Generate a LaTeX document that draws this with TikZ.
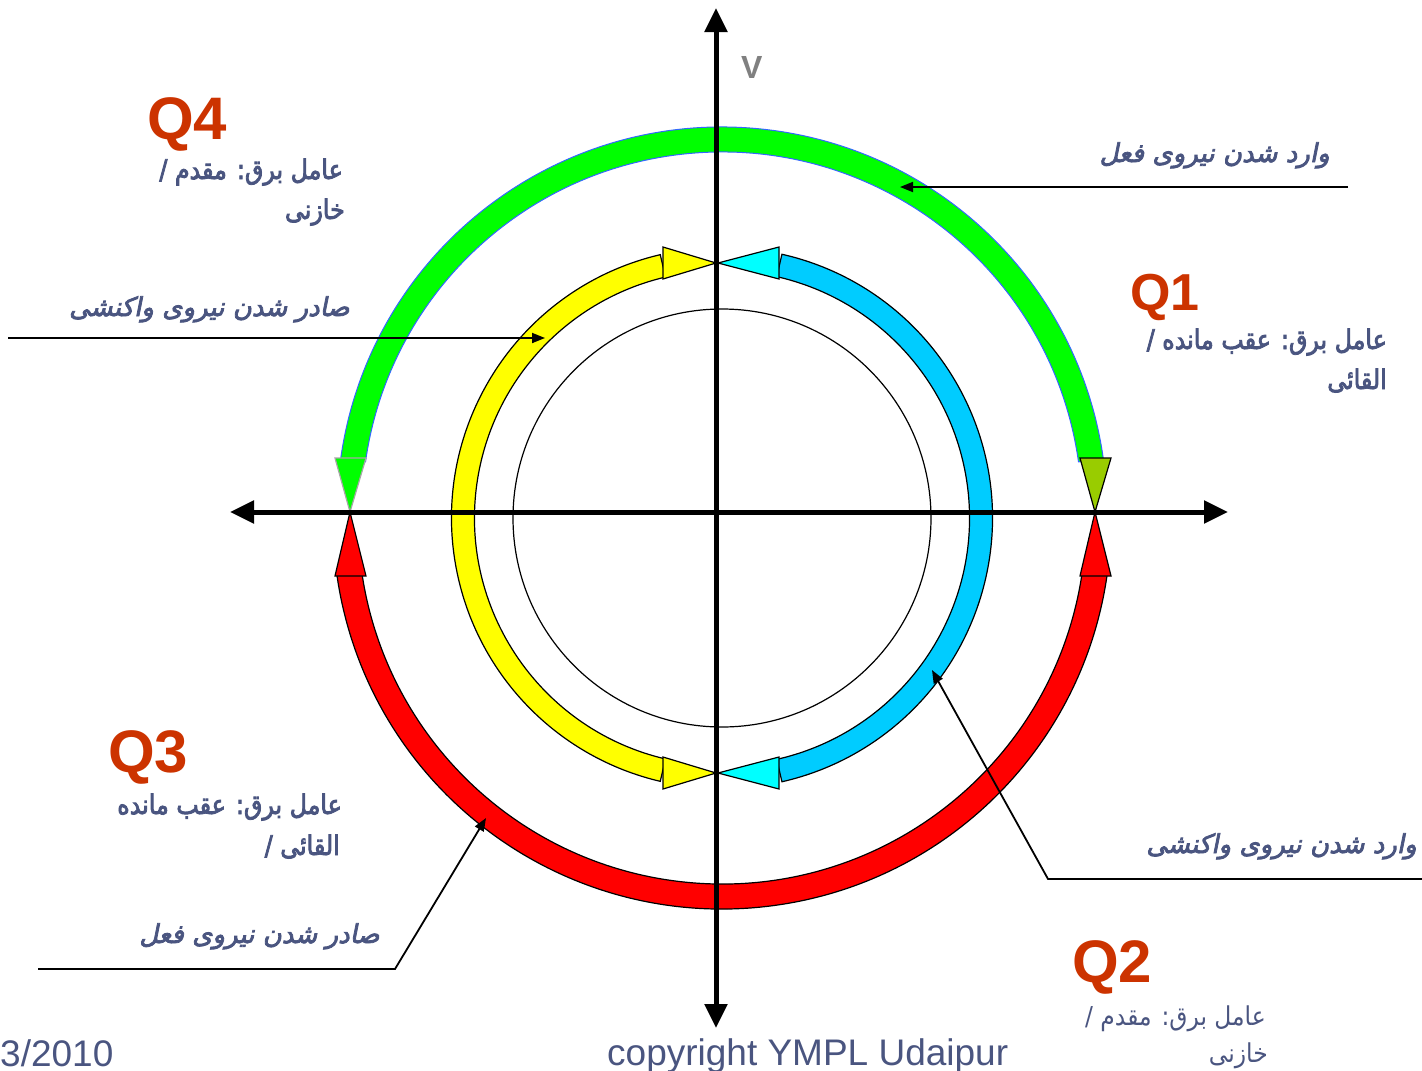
\documentclass[tikz,border=0pt]{standalone}
\usepackage{fontspec}
\setmainfont{Liberation Sans}
\newfontfamily\arb[Script=Arabic,FakeStretch=0.9]{DejaVu Sans}
\newfontfamily\arbb[Script=Arabic,FakeBold=3,FakeStretch=0.88]{DejaVu Sans}
\newfontfamily\arbbi[Script=Arabic,FakeBold=3,FakeSlant=0.2]{DejaVu Sans}
\usetikzlibrary{arrows.meta}
\TeXXeTstate=1
\definecolor{qred}{RGB}{204,51,0}
\definecolor{ptext}{RGB}{74,85,128}
\definecolor{bandblue}{RGB}{0,204,255}
\definecolor{headcyan}{RGB}{0,255,255}
\definecolor{bandyellow}{RGB}{255,255,0}
\definecolor{bandgreen}{RGB}{0,255,0}
\definecolor{bandred}{RGB}{255,0,0}
\definecolor{olivegreen}{RGB}{153,204,0}
\definecolor{gborder}{RGB}{51,102,255}
\definecolor{vgray}{RGB}{128,128,128}
\begin{document}
\begin{tikzpicture}[x=1pt,y=-1pt,
  axisline/.style={line width=5pt,{Triangle[length=24pt,width=22pt]}-{Triangle[length=24pt,width=22pt]}},
  callout/.style={line width=1.8pt,-{Triangle[length=13pt,width=10pt]}},
  bandshape/.style={draw=black,line width=1.2pt},
  headshape/.style={draw=black,line width=1.2pt,line join=miter},
  qlabel/.style={font=\fontsize{60}{60}\selectfont\bfseries,text=qred,inner sep=0pt,anchor=base west},
  plabel/.style={font=\arbb\fontsize{27}{27}\selectfont,text=ptext,inner sep=0pt,anchor=base east},
  plabelreg/.style={font=\arb\fontsize{26}{26}\selectfont,text=ptext,inner sep=0pt,anchor=base east},
  calltext/.style={font=\arbbi\fontsize{26}{26}\selectfont,text=ptext,inner sep=0pt,anchor=base east},
  foot/.style={font=\fontsize{37}{37}\selectfont,text=ptext,inner sep=0pt,anchor=base west}]
\useasboundingbox (0,0) rectangle (1422,1071);

% green band (top)
\path[fill=bandgreen,draw=gborder,line width=1pt] (722,512) ++(188:385) arc[start angle=188,end angle=352,radius=385] -- ++(352:-25) arc[start angle=352,end angle=188,radius=360] -- cycle;
\filldraw[fill=bandgreen,draw=vgray!70,line width=1.2pt,line join=miter] (335,458) -- (366,458) -- (350,512) -- cycle;
\filldraw[headshape,fill=olivegreen] (1080,458) -- (1111,458) -- (1095,512) -- cycle;

% red band (bottom)
\filldraw[bandshape,fill=bandred] (722,520) ++(172:389) arc[start angle=172,end angle=8,radius=389] -- ++(8:-25) arc[start angle=8,end angle=172,radius=364] -- cycle;
\filldraw[headshape,fill=bandred] (335,576) -- (366,576) -- (350,512) -- cycle;
\filldraw[headshape,fill=bandred] (1080,576) -- (1111,576) -- (1095,512) -- cycle;

% yellow band (left)
\filldraw[bandshape,fill=bandyellow] (722,518) ++(256.8:270.5) arc[start angle=256.8,end angle=103.2,radius=270.5] -- ++(103.2:-23) arc[start angle=103.2,end angle=256.8,radius=247.5] -- cycle;
\filldraw[headshape,fill=bandyellow] (663,247) -- (663,279) -- (716,263) -- cycle;
\filldraw[headshape,fill=bandyellow] (663,757) -- (663,789) -- (716,773) -- cycle;

% blue band (right)
\filldraw[bandshape,fill=bandblue] (722,518) ++(-77.2:270.5) arc[start angle=-77.2,end angle=77.2,radius=270.5] -- ++(77.2:-23) arc[start angle=77.2,end angle=-77.2,radius=247.5] -- cycle;
\filldraw[headshape,fill=headcyan] (779,247) -- (779,279) -- (718,263) -- cycle;
\filldraw[headshape,fill=headcyan] (779,757) -- (779,789) -- (718,773) -- cycle;

% inner circle
\draw[line width=1.2pt] (722,518) circle[radius=209];

% axes
\coordinate (vtop) at (716,8);
\coordinate (vbot) at (716,1028);
\coordinate (hleft) at (230,512);
\coordinate (hright) at (1228,512);
\draw[axisline] (vbot) -- (vtop);
\draw[axisline] (hleft) -- (hright);
\node[font=\fontsize{32}{32}\selectfont\bfseries,text=vgray,inner sep=0pt,anchor=base west] (vlab) at (741,78) {V};

% callouts
\coordinate (c1s) at (1348,187); \coordinate (c1e) at (900,187);
\coordinate (c2s) at (8,338); \coordinate (c2e) at (545,338);
\coordinate (c3s) at (1422,879); \coordinate (c3k) at (1048,879); \coordinate (c3e) at (932,670);
\coordinate (c4s) at (38,969); \coordinate (c4k) at (395,969); \coordinate (c4e) at (486,818);
\draw[callout] (c1s) -- (c1e);
\draw[callout] (c2s) -- (c2e);
\draw[callout] (c3s) -- (c3k) -- (c3e);
\draw[callout] (c4s) -- (c4k) -- (c4e);

\node[calltext] (t1) at (1330,162) {\beginR وارد شدن نیروی فعل\endR};
\node[calltext] (t2) at (350,316) {\beginR صادر شدن نیروی واکنشی\endR};
\node[calltext] (t3) at (1417,853) {\beginR وارد شدن نیروی واکنشی\endR};
\node[calltext] (t4) at (380,943) {\beginR صادر شدن نیروی فعل\endR};

% quadrant labels
\node[qlabel] (q4) at (147,139) {Q4};
\node[plabel] (q4a) at (343,179) {\beginR عامل برق: مقدم /\endR};
\node[plabel] (q4b) at (345,219) {\beginR خازنی\endR};

\node[qlabel,font=\fontsize{52}{52}\selectfont\bfseries] (q1) at (1130,310) {Q1};
\node[plabel] (q1a) at (1387,349) {\beginR عامل برق: عقب مانده /\endR};
\node[plabel] (q1b) at (1387,389) {\beginR القائی\endR};

\node[qlabel] (q3) at (108,772) {Q3};
\node[plabel] (q3a) at (342,814) {\beginR عامل برق: عقب مانده\endR};
\node[plabel] (q3b) at (340,855) {\beginR القائی /\endR};

\node[qlabel] (q2) at (1072,982) {Q2};
\node[plabelreg] (q2a) at (1266,1025) {\beginR عامل برق: مقدم /\endR};
\node[plabelreg] (q2b) at (1268,1062) {\beginR خازنی\endR};

% footer
\node[foot] (date) at (0,1066) {3/2010};
\node[foot] (copy) at (607,1065) {copyright YMPL Udaipur};
\end{tikzpicture}
\end{document}
